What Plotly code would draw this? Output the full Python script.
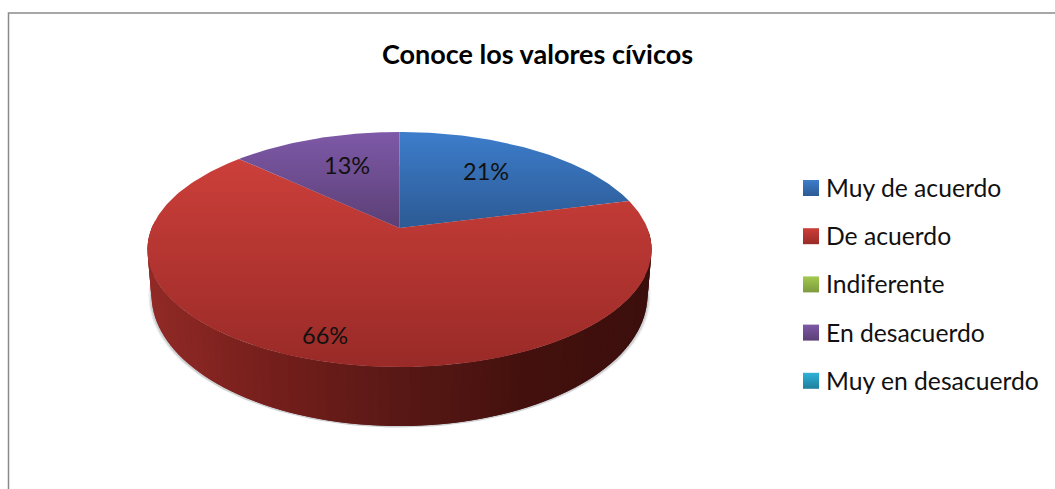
import numpy as np
import plotly.graph_objects as go

# --- data
categories = ["Muy de acuerdo", "De acuerdo", "Indiferente", "En desacuerdo", "Muy en desacuerdo"]
values = [21, 66, 0, 13, 0]
title_text = "Conoce los valores cívicos"

# --- styles
top_colors = ["#3d7dcb", "#cc3f3a", "#a3c94e", "#7e59a8", "#2fb2d9"]
bottom_colors = ["#2c5a94", "#992a27", "#7d9a3e", "#5b3f75", "#1f7f9c"]
side_stops = [(0.0, "#922b27"), (0.25, "#761f1c"), (0.5, "#5a1916"), (0.75, "#45110e"), (1.0, "#3c0f0d")]
frame_color = "#8a8a8a"
text_color = "#111111"
FONT = "Lato"

# --- geometry of the tilted disc (page pixels)
CX, CY, A, B, K = 399.5, 228.0, 247.8, 113.6, 0.183
LOWER_DY, LOWER_SX, LOWER_SY = 43.0, 0.984, 1.115
label_radius = [0.696, 0.83, 0.0, 0.673, 0.0]
label_xshift = [-10, -15, 0, 7, 0]


def project(theta_deg, r=1.0, sx=1.0, sy=1.0, dy=0.0):
    t = np.radians(theta_deg)
    u, v = r * np.sin(t), r * np.cos(t)
    w = 1 + K * v
    return CX + sx * A * u / w, CY + dy - sy * B * v / w


def hex_rgb(c):
    return np.array([int(c[i:i + 2], 16) for i in (1, 3, 5)], float)


def side_color(f):
    xs = [s[0] for s in side_stops]
    rgb = [np.interp(f, xs, [hex_rgb(s[1])[i] for s in side_stops]) for i in range(3)]
    return "rgb(%d,%d,%d)" % tuple(rgb)


fig = go.Figure()

# soft shadow under the disc (two faint layers)
th = np.linspace(0, 360, 181)
for grow, alpha in ((1.012, 0.10), (1.006, 0.16)):
    sx_, sy_ = project(th, sx=LOWER_SX * grow, sy=LOWER_SY, dy=LOWER_DY + 1.5)
    fig.add_trace(go.Scatter(x=sx_, y=sy_, mode="lines", fill="toself", line=dict(width=0),
                             fillcolor=f"rgba(60,70,80,{alpha})", hoverinfo="skip", showlegend=False))

# side wall, shaded left to right; each strip overlaps the next so no seams show
step = 2
for a0 in range(90, 272, step):
    ang = np.array([a0, a0 + step, a0 + step + 2])
    x1, y1 = project(ang)
    x2, y2 = project(ang[::-1], sx=LOWER_SX, sy=LOWER_SY, dy=LOWER_DY)
    f = (x1[0] - (CX - 252)) / 504
    col = side_color(f)
    fig.add_trace(go.Scatter(x=np.r_[x1, x2], y=np.r_[y1, y2], mode="lines", fill="toself",
                             fillcolor=col, line=dict(width=0),
                             hoverinfo="skip", showlegend=False))

# top faces
total = sum(values)
start = 0.0
mids = []
for name, val, c0, c1 in zip(categories, values, top_colors, bottom_colors):
    sweep = 360.0 * val / total
    mids.append(start + sweep / 2)
    if val > 0:
        ang = np.linspace(start, start + sweep, max(int(sweep), 2) + 1)
        x, y = project(ang)
        fig.add_trace(go.Scatter(
            x=np.r_[CX, x, CX], y=np.r_[CY, y, CY], mode="lines", fill="toself", name=name,
            line=dict(width=0),
            fillgradient=dict(type="vertical", colorscale=[[0, c1], [1, c0]]),
            hoverinfo="name", showlegend=False))
    start += sweep

# data labels
annotations = []
for val, mid, r, xs in zip(values, mids, label_radius, label_xshift):
    if val > 0:
        lx, ly = project(mid, r=r)
        annotations.append(dict(x=float(lx), y=float(ly), xref="x", yref="y", text=f"{val}%", showarrow=False,
                                xshift=xs, font=dict(family=FONT, size=23.5, color=text_color)))

# legend
LEG_X, LEG_Y0, LEG_DY = 811, 188.0, 48.2
rows = [LEG_Y0 + i * LEG_DY for i in range(len(categories))]
fig.add_trace(go.Scatter(
    x=[LEG_X] * len(categories), y=rows, mode="markers", hoverinfo="skip", showlegend=False,
    marker=dict(symbol="square", size=16, color=top_colors, line=dict(width=0),
                gradient=dict(type="vertical", color=bottom_colors))))
for name, yy in zip(categories, rows):
    annotations.append(dict(x=824, y=yy - 0.5, xref="x", yref="y", text=name, showarrow=False, xanchor="left",
                            font=dict(family=FONT, size=24.7, color=text_color)))

annotations.append(dict(x=537, y=53.5, xref="x", yref="y", text=f"<b>{title_text}</b>", showarrow=False,
                        font=dict(family=FONT, size=27, color="#000000")))

fig.update_layout(
    width=1055, height=489, margin=dict(l=0, r=0, t=0, b=0), autosize=False,
    paper_bgcolor="white", plot_bgcolor="white", showlegend=False,
    xaxis=dict(range=[0, 1055], visible=False, fixedrange=True),
    yaxis=dict(range=[489, 0], visible=False, fixedrange=True),
    annotations=annotations,
    shapes=[dict(type="rect", xref="x", yref="y", x0=8.5, y0=13, x1=1200, y1=700,
                 line=dict(color=frame_color, width=1.5), layer="below")],
)
fig.write_html("out.html", config=dict(displayModeBar=False),
               post_script="document.body.style.margin='0';document.body.style.overflow='hidden';")
